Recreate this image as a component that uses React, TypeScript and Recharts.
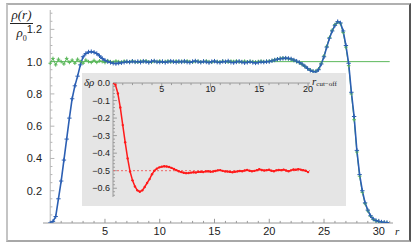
import React from "react";
import { LineChart, Line, XAxis, YAxis, ReferenceLine } from "recharts";

// radial grid shared by both density profiles
const rGrid = [
  0, 0.25, 0.5, 0.75, 1, 1.25, 1.5, 1.75, 2, 2.25, 2.5, 2.75, 3, 3.25, 3.5, 3.75,
  4, 4.25, 4.5, 4.75, 5, 5.25, 5.5, 5.75, 6, 6.25, 6.5, 6.75, 7, 7.25, 7.5, 7.75,
  8, 8.25, 8.5, 8.75, 9, 9.25, 9.5, 9.75, 10, 10.25, 10.5, 10.75, 11, 11.25, 11.5, 11.75,
  12, 12.25, 12.5, 12.75, 13, 13.25, 13.5, 13.75, 14, 14.25, 14.5, 14.75, 15, 15.25, 15.5, 15.75,
  16, 16.25, 16.5, 16.75, 17, 17.25, 17.5, 17.75, 18, 18.25, 18.5, 18.75, 19, 19.25, 19.5, 19.75,
  20, 20.25, 20.5, 20.75, 21, 21.25, 21.5, 21.75, 22, 22.25, 22.5, 22.75, 23, 23.25, 23.5, 23.75,
  24, 24.25, 24.5, 24.75, 25, 25.25, 25.5, 25.75, 26, 26.25, 26.5, 26.75, 27, 27.25, 27.5, 27.75,
  28, 28.25, 28.5, 28.75, 29, 29.25, 29.5, 29.75, 30, 30.25, 30.5, 30.75,
];

const blueRho = [
  0, 0.01, 0.04, 0.15, 0.26, 0.39, 0.52, 0.65, 0.77, 0.85, 0.91, 0.98, 1.03, 1.05, 1.06, 1.062,
  1.058, 1.05, 1.036, 1.02, 1.008, 1.0, 0.995, 0.99, 0.988, 0.991, 0.993, 0.996, 1.0, 0.997, 1.002, 0.998,
  1.001, 0.996, 1.003, 0.999, 0.995, 1.002, 1.004, 0.998, 0.997, 1.001, 0.995, 0.999, 1.003, 1.0, 0.996, 1.002,
  0.998, 1.003, 0.997, 0.995, 1.001, 1.004, 0.999, 0.996, 1.002, 0.998, 0.994, 1.0, 1.003, 0.997, 0.995, 1.001,
  0.999, 1.004, 0.996, 0.994, 0.998, 1.002, 0.997, 0.993, 0.996, 0.999, 0.995, 0.992, 0.995, 0.998, 0.997, 1.0,
  1.0, 1.005, 1.01, 1.015, 1.018, 1.02, 1.022, 1.02, 1.017, 1.01, 1.003, 0.995, 0.985, 0.972, 0.958, 0.946,
  0.939, 0.937, 0.95, 0.985, 1.03, 1.09, 1.145, 1.19, 1.225, 1.248, 1.24, 1.19, 1.1, 0.99, 0.81, 0.66,
  0.45, 0.3, 0.2, 0.125, 0.08, 0.045, 0.025, 0.015, 0.01, 0.006, 0.004, 0.003,
];

const greenRho = [
  0.99, 1.02, 0.98, 1.015, 1.0, 0.985, 1.02, 0.995, 1.01, 0.99, 1.015, 1.0, 0.99, 1.01, 1.0, 0.995,
  1.008, 0.995, 1.005, 1.0, 0.994, 1.006, 1.0, 0.997, 1.004, 1.0, 0.996, 1.003, 1.001, 0.998, 1.004, 0.999,
  0.997, 1.003, 1.0, 1.005, 0.998, 0.996, 1.002, 1.0, 1.004, 0.997, 1.001, 1.003, 0.998, 1.0, 1.004, 0.997,
  1.002, 0.999, 1.004, 1.0, 0.997, 1.001, 1.003, 0.998, 1.0, 1.004, 1.0, 0.996, 1.002, 1.001, 0.998, 1.003,
  1.0, 0.997, 1.003, 1.001, 1.004, 0.998, 1.0, 1.003, 0.999, 1.002, 1.0, 0.998, 1.001, 1.003, 1.0, 1.002,
  1.003, 1.007, 1.012, 1.016, 1.02, 1.022, 1.02, 1.018, 1.014, 1.008, 1.0, 0.993, 0.982, 0.97, 0.957, 0.948,
  0.94, 0.94, 0.955, 0.99, 1.035, 1.095, 1.15, 1.195, 1.23, 1.245, 1.235, 1.18, 1.09, 0.975, 0.8, 0.64,
  0.44, 0.29, 0.19, 0.12, 0.075, 0.042, 0.022, 0.013, 0.008, 0.005, 0.003, 0.002,
];

// inset: density shift against cut-off radius
const rCut = [
  0, 0.25, 0.5, 0.75, 1, 1.25, 1.5, 1.75, 2, 2.25, 2.5, 2.75, 3, 3.25, 3.5, 3.75,
  4, 4.25, 4.5, 4.75, 5, 5.25, 5.5, 5.75, 6, 6.25, 6.5, 6.75, 7, 7.25, 7.5, 7.75,
  8, 8.25, 8.5, 8.75, 9, 9.25, 9.5, 9.75, 10, 10.25, 10.5, 10.75, 11, 11.25, 11.5, 11.75,
  12, 12.25, 12.5, 12.75, 13, 13.25, 13.5, 13.75, 14, 14.25, 14.5, 14.75, 15, 15.25, 15.5, 15.75,
  16, 16.25, 16.5, 16.75, 17, 17.25, 17.5, 17.75, 18, 18.25, 18.5, 18.75, 19, 19.25, 19.5, 19.75, 20,
];

const deltaRho = [
  0, -0.01, -0.06, -0.14, -0.24, -0.338, -0.43, -0.505, -0.555, -0.59, -0.612, -0.62, -0.612, -0.593, -0.57, -0.548,
  -0.52, -0.5, -0.488, -0.481, -0.477, -0.475, -0.476, -0.479, -0.484, -0.49, -0.497, -0.503, -0.508, -0.512, -0.514, -0.513,
  -0.511, -0.509, -0.51, -0.507, -0.506, -0.508, -0.504, -0.503, -0.506, -0.505, -0.502, -0.498, -0.497, -0.501, -0.504, -0.505,
  -0.507, -0.509, -0.506, -0.504, -0.502, -0.503, -0.499, -0.496, -0.5, -0.503, -0.501, -0.497, -0.492, -0.496, -0.499, -0.497,
  -0.495, -0.5, -0.503, -0.498, -0.496, -0.497, -0.494, -0.499, -0.503, -0.498, -0.493, -0.495, -0.491, -0.494, -0.497, -0.5,
  -0.508,
];

const mainXTicks = [5, 10, 15, 20, 25, 30];
const mainYTicks = [0.2, 0.4, 0.6, 0.8, 1.0, 1.2];
const mainXMinor = [1, 2, 3, 4, 6, 7, 8, 9, 11, 12, 13, 14, 16, 17, 18, 19, 21, 22, 23, 24, 26, 27, 28, 29, 31];
const mainYMinor = [0.05, 0.1, 0.15, 0.25, 0.3, 0.35, 0.45, 0.5, 0.55, 0.65, 0.7, 0.75, 0.85, 0.9, 0.95, 1.05, 1.1, 1.15, 1.25, 1.3];

const insetXTicks = [5, 10, 15, 20];
const insetYTicks = [0, -0.1, -0.2, -0.3, -0.4, -0.5, -0.6];
const insetXMinor = [1, 2, 3, 4, 6, 7, 8, 9, 11, 12, 13, 14, 16, 17, 18, 19];
const insetYMinor = [
  -0.02, -0.04, -0.06, -0.08, -0.12, -0.14, -0.16, -0.18, -0.22, -0.24, -0.26, -0.28,
  -0.32, -0.34, -0.36, -0.38, -0.42, -0.44, -0.46, -0.48, -0.52, -0.54, -0.56, -0.58, -0.62, -0.64,
];

const BLUE = "#2c5fb3";
const GREEN = "#5cb85c";
const RED = "#ff1a1a";
const AXIS = "#9a9a9a";
const FONT = "'Liberation Sans', Arial, sans-serif";
const SERIF = "'Liberation Serif', 'DejaVu Serif', serif";

const plusDot = (color: string, s: number) => (props: any) => {
  const { cx, cy, index } = props;
  if (cx == null || cy == null) return <g key={`p${index}`} />;
  return (
    <path
      key={`p${index}`}
      d={`M${cx - s},${cy}H${cx + s}M${cx},${cy - s}V${cy + s}`}
      stroke={color}
      strokeWidth={1}
      fill="none"
    />
  );
};

const roundDot = (props: any) => {
  const { cx, cy, index } = props;
  if (cx == null || cy == null) return <g key={`d${index}`} />;
  return <circle key={`d${index}`} cx={cx} cy={cy} r={1.2} fill={RED} />;
};

export default function App() {
  const mainData = rGrid.map((r, i) => ({ r, blue: blueRho[i], green: greenRho[i] }));
  const insetData = rCut.map((r, i) => ({ r, d: deltaRho[i] }));

  return (
    <div style={{ position: "fixed", left: 0, top: 0, width: 415, height: 245, background: "#fff", overflow: "hidden" }}>
      {/* image frame */}
      <div
        style={{
          position: "absolute", left: 6, top: 3, width: 401, height: 235,
          borderTop: "2px solid #b0b0b0", borderLeft: "2px solid #c4c4c4",
          borderBottom: "2px solid #a8a8a8", borderRight: "2px solid #555",
        }}
      />

      <div style={{ position: "absolute", left: 0, top: 0 }}>
        <LineChart width={415} height={245} data={mainData} margin={{ top: 10, right: 22, bottom: 0, left: 0 }} style={{ fontFamily: FONT }}>
          <XAxis
            dataKey="r"
            type="number"
            domain={[-0.66, 31.3]}
            ticks={mainXTicks}
            allowDataOverflow
            height={22}
            tickSize={0}
            tickMargin={4}
            stroke={AXIS}
            tick={{ fontSize: 11, fill: "#222" }}
          />
          <YAxis
            type="number"
            domain={[0, 1.32]}
            ticks={mainYTicks}
            allowDataOverflow
            width={43}
            axisLine={false}
            tickSize={0}
            tickMargin={1}
            tickFormatter={(v: number) => v.toFixed(1)}
            tick={{ fontSize: 11, fill: "#222" }}
          />
          <ReferenceLine x={0} stroke="#b5b5b5" />
          {mainYMinor.map((v) => (
            <ReferenceLine key={`ym${v}`} segment={[{ x: 0, y: v }, { x: 0.2, y: v }]} stroke="#b5b5b5" />
          ))}
          {mainYTicks.map((v) => (
            <ReferenceLine key={`yM${v}`} segment={[{ x: 0, y: v }, { x: 0.38, y: v }]} stroke="#b5b5b5" />
          ))}
          {mainXMinor.map((v) => (
            <ReferenceLine key={`xm${v}`} segment={[{ x: v, y: 0 }, { x: v, y: 0.013 }]} stroke={AXIS} />
          ))}
          {mainXTicks.map((v) => (
            <ReferenceLine key={`xM${v}`} segment={[{ x: v, y: 0 }, { x: v, y: 0.026 }]} stroke={AXIS} />
          ))}
          <ReferenceLine segment={[{ x: 0, y: 1 }, { x: 31, y: 1 }]} stroke={GREEN} strokeWidth={1} />
          <Line
            dataKey="green"
            stroke={GREEN}
            strokeWidth={1}
            dot={plusDot(GREEN, 1.8)}
            isAnimationActive={false}
          />
          <Line
            dataKey="blue"
            stroke={BLUE}
            strokeWidth={1.6}
            dot={plusDot(BLUE, 2.2)}
            isAnimationActive={false}
          />
        </LineChart>
      </div>

      {/* y label rho(r)/rho0 */}
      <div style={{ position: "absolute", left: 10, top: 8, width: 23, fontFamily: SERIF, fontStyle: "italic", fontSize: 13, color: "#222", textAlign: "center", lineHeight: "13px" }}>
        <div style={{ borderBottom: "1px solid #222", paddingBottom: 2 }}>ρ(r)</div>
        <div style={{ paddingTop: 2 }}>
          ρ<sub style={{ fontSize: 8, fontStyle: "normal" }}>0</sub>
        </div>
      </div>
      <div style={{ position: "absolute", left: 395, top: 225, fontFamily: SERIF, fontStyle: "italic", fontSize: 11, color: "#222" }}>r</div>

      {/* inset */}
      <div style={{ position: "absolute", left: 82, top: 73, width: 264, height: 133, background: "#e5e5e5" }}>
        <LineChart width={264} height={133} data={insetData} margin={{ top: 0, right: 36, bottom: 9, left: 0 }} style={{ fontFamily: FONT }}>
          <XAxis
            dataKey="r"
            type="number"
            orientation="top"
            domain={[0, 20.2]}
            ticks={insetXTicks}
            allowDataOverflow
            height={10}
            tickSize={0}
            tickMargin={0}
            stroke={AXIS}
            tick={{ fontSize: 9, fill: "#222", dy: 9 }}
          />
          <YAxis
            type="number"
            domain={[-0.65, 0]}
            ticks={insetYTicks}
            allowDataOverflow
            width={31}
            tickSize={0}
            tickMargin={3}
            stroke={AXIS}
            tickFormatter={(v: number) => (v === 0 ? "0.0" : "\u2212" + Math.abs(v).toFixed(1))}
            tick={{ fontSize: 9, fill: "#222" }}
          />
          {insetXMinor.map((v) => (
            <ReferenceLine key={`ixm${v}`} segment={[{ x: v, y: 0 }, { x: v, y: -0.012 }]} stroke={AXIS} />
          ))}
          {insetXTicks.map((v) => (
            <ReferenceLine key={`ixM${v}`} segment={[{ x: v, y: 0 }, { x: v, y: -0.024 }]} stroke={AXIS} />
          ))}
          {insetYMinor.map((v) => (
            <ReferenceLine key={`iym${v}`} segment={[{ x: 0, y: v }, { x: 0.2, y: v }]} stroke={AXIS} />
          ))}
          {insetYTicks.map((v) => (
            <ReferenceLine key={`iyM${v}`} segment={[{ x: 0, y: v }, { x: 0.4, y: v }]} stroke={AXIS} />
          ))}
          <ReferenceLine y={-0.5} stroke="#ee6666" strokeDasharray="2 2" />
          <Line dataKey="d" stroke={RED} strokeWidth={1.5} dot={roundDot} isAnimationActive={false} />
        </LineChart>
        <div style={{ position: "absolute", left: 2, top: 3, fontFamily: SERIF, fontStyle: "italic", fontSize: 11, color: "#222" }}>δρ</div>
        <div style={{ position: "absolute", left: 230, top: 2, fontFamily: SERIF, fontStyle: "italic", fontSize: 11, color: "#222", whiteSpace: "nowrap" }}>
          r<sub style={{ fontSize: 7, fontStyle: "normal", verticalAlign: "-1px" }}>cut−off</sub>
        </div>
      </div>
    </div>
  );
}
